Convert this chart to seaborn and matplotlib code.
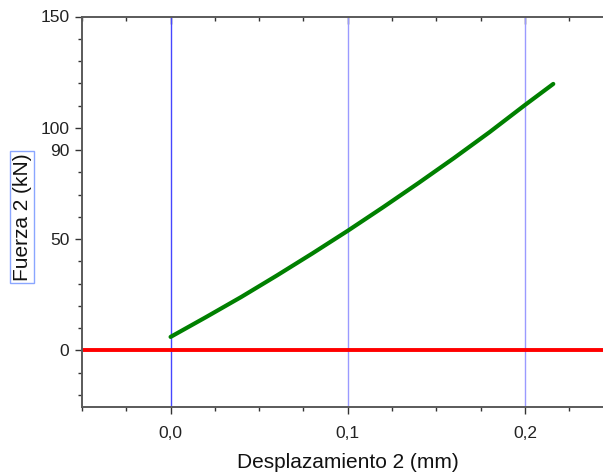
import matplotlib
matplotlib.use("Agg")
import matplotlib.pyplot as plt
from matplotlib.ticker import FixedLocator, MultipleLocator
import seaborn as sns
import pandas as pd

# Data
desplazamiento = [0.0, 0.02, 0.04, 0.06, 0.08, 0.10, 0.12, 0.14, 0.16, 0.18, 0.20, 0.216]
fuerza = [6.0, 14.9, 24.0, 33.6, 43.5, 53.7, 64.3, 75.2, 86.4, 98.0, 110.2, 119.7]
x_ticks = [0.0, 0.1, 0.2]
x_tick_labels = ["0,0", "0,1", "0,2"]
y_ticks = [0, 50, 90, 100, 150]
y_tick_labels = ["0", "50", "90", "100", "150"]
vlines_dark = [0.0]
vlines_light = [0.1, 0.2]
hline_y = [0]

df = pd.DataFrame({"Desplazamiento 2 (mm)": desplazamiento, "Fuerza 2 (kN)": fuerza})

sns.set_style("ticks")
plt.rcParams["font.family"] = ["Liberation Sans", "DejaVu Sans"]

fig = plt.figure(figsize=(6.03, 4.72), dpi=100)
ax = fig.add_axes([82 / 603, 65 / 472, 531.5 / 603, 390.5 / 472])

for xv in vlines_light:
    ax.axvline(xv, color="#9a9aff", lw=1.0, zorder=1)
for xv in vlines_dark:
    ax.axvline(xv, color="#4646ff", lw=1.0, zorder=1)
for yv in hline_y:
    ax.axhline(yv, color="#ff0000", lw=2.8, zorder=2)

sns.lineplot(data=df, x="Desplazamiento 2 (mm)", y="Fuerza 2 (kN)", ax=ax,
             color="#008000", lw=3.0, solid_capstyle="round", zorder=3)

ax.set_xlim(-0.05, 0.25)
ax.set_ylim(-25.5, 150)

ax.xaxis.set_major_locator(FixedLocator(x_ticks))
ax.set_xticklabels(x_tick_labels)
ax.xaxis.set_minor_locator(MultipleLocator(0.025))
ax.yaxis.set_major_locator(FixedLocator(y_ticks))
ax.set_yticklabels(y_tick_labels)
ax.yaxis.set_minor_locator(MultipleLocator(10))

spine_col = "#5a5a5a"
for s in ["left", "bottom", "top"]:
    ax.spines[s].set_visible(True)
    ax.spines[s].set_color(spine_col)
    ax.spines[s].set_linewidth(1.4)
ax.spines["right"].set_visible(False)

ax.tick_params(axis="both", which="major", labelsize=12.5, length=5, width=1.0,
               color="#333333", labelcolor="#222222", pad=4)
ax.tick_params(axis="both", which="minor", length=3, width=1.0, color="#333333")
ax.tick_params(axis="x", which="both", direction="out", top=True)
ax.tick_params(axis="x", which="major", pad=9)

ax.set_xlabel("Desplazamiento 2 (mm)", fontsize=15, color="#111111", labelpad=8)
ax.set_ylabel("Fuerza 2 (kN)", fontsize=15, color="#111111",
              bbox=dict(boxstyle="square,pad=0.12", fc="none", ec="#8aa6ff", lw=1.0))
ax.yaxis.set_label_coords(-0.095, 0.487)

# top ticks point inward
for t in ax.xaxis.get_major_ticks() + ax.xaxis.get_minor_ticks():
    t.tick2line.set_marker(matplotlib.lines.TICKDOWN)

fig.savefig("out.png", dpi=100)
